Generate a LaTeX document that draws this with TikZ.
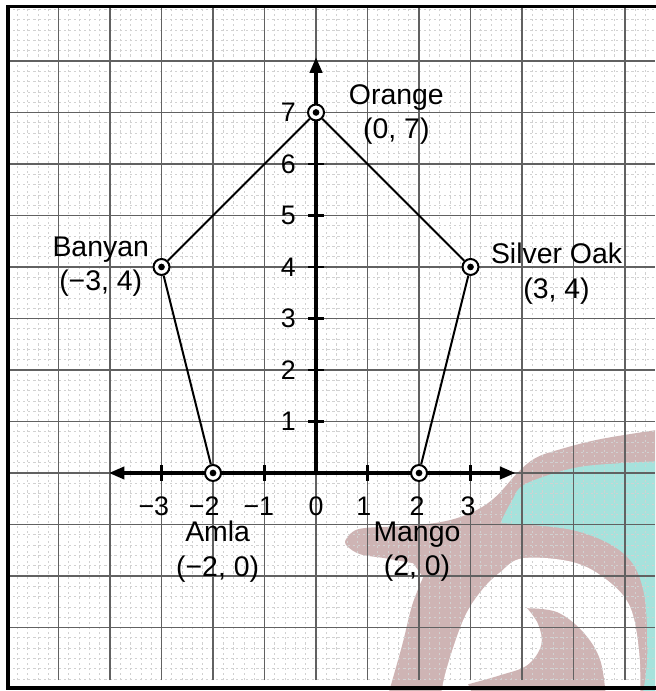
\documentclass[tikz,border=0pt]{standalone}
\usepackage{fontspec}
\setmainfont{Liberation Sans}
\usetikzlibrary{arrows.meta}
\definecolor{wmpink}{RGB}{206,180,180}
\definecolor{wmteal}{RGB}{166,226,220}
\begin{document}
\begin{tikzpicture}[
  >={Triangle[length=0.3cm,width=0.24cm]},
  gmajor/.style={black!62, line width=0.75pt},
  gminor/.style={black!18, line width=0.4pt, dash pattern=on 1.2pt off 1.6pt},
  axisline/.style={line width=1.7pt, black},
  tickline/.style={line width=1.3pt, black},
  ptmark/.style={circle, draw=black, line width=1.1pt, fill=white, minimum size=0.31cm, inner sep=0pt,
    path picture={\fill[black] (path picture bounding box.center) circle (0.065);}},
  sideline/.style={line width=1.1pt, black},
  lbl/.style={font=\fontsize{15.7}{19}\selectfont, align=center, inner sep=0pt},
  numlbl/.style={font=\fontsize{14.8}{18}\selectfont, inner sep=0pt}
]
\useasboundingbox (-6.136,-4.233) rectangle (6.583,9.184);
\fill[white] (-6.136,-4.233) rectangle (6.583,9.184);

% watermark (pixel coordinates)
\begin{scope}
\clip (-6.136,-4.233) rectangle (6.583,9.184);
\begin{scope}[shift={(-6.136,9.184)}, x=0.019417cm, y=-0.019417cm]
\fill[wmpink] plot[smooth, tension=0.6] coordinates {(345,541) (358,529) (400,526) (440,522) (470,513) (494,498) (518,472) (535,458) (557,450) (600,439) (662,429)}
  -- (662,700) -- (388,700)
  -- plot[smooth, tension=0.6] coordinates {(389,691) (402,645) (412,605) (423,577)}
  -- plot[smooth, tension=0.6] coordinates {(413,563) (385,558) (360,554) (347,546) (345,541)} -- cycle;
\fill[wmteal] plot[smooth, tension=0.6] coordinates {(500,523) (512,500) (525,484) (573,468) (620,463) (662,461)}
  -- (662,700) -- (643,700)
  -- plot[smooth, tension=0.6] coordinates {(643,691) (647,653) (643,590) (623,553) (573,530) (500,523)} -- cycle;
\fill[white] plot[smooth, tension=0.6] coordinates {(440,700) (446,670) (463,620) (480,592) (500,572) (523,558) (573,562) (607,580) (630,607) (639,653) (640,700)} -- cycle;
\fill[wmpink] plot[smooth, tension=0.6] coordinates {(527,608) (557,612) (583,632) (600,660) (606,700)}
  -- (475,700)
  -- plot[smooth, tension=0.6] coordinates {(468,684) (500,675) (527,665) (541,645) (538,624) (527,608)} -- cycle;
\end{scope}
\end{scope}

% grid
\draw[gminor] (-5.98,-4.02) grid[step=0.2] (6.583,9.05);
\foreach \x in {-5,...,6} \draw[gmajor] (\x,-4.02) -- (\x,9.05);
\foreach \y in {-3,...,8} \draw[gmajor] (-5.98,\y) -- (6.583,\y);

% frame
\draw[line width=1.7pt] (6.7,9.05) -- (-5.98,9.05) -- (-5.98,-4.175) -- (6.7,-4.175);

% axes
\coordinate (xl) at (-4.02,0);
\coordinate (xr) at (3.87,0);
\coordinate (org) at (0,0);
\coordinate (yt) at (0,8.07);
\draw[axisline, <->] (xl) -- (xr);
\draw[axisline, ->] (org) -- (yt);
\foreach \x in {-3,-2,-1,1,2,3} \draw[tickline] (\x,-0.15) -- (\x,0.15);
\foreach \y in {1,...,7} \draw[tickline] (-0.15,\y) -- (0.15,\y);

% tick labels
\node[numlbl] (tx-3) at (-3.15,-0.64) {−3};
\node[numlbl] (tx-2) at (-2.17,-0.64) {−2};
\node[numlbl] (tx-1) at (-1.11,-0.64) {−1};
\node[numlbl] (tx0) at (0,-0.64) {0};
\node[numlbl] (tx1) at (0.93,-0.64) {1};
\node[numlbl] (tx2) at (1.96,-0.64) {2};
\node[numlbl] (tx3) at (2.95,-0.64) {3};
\foreach \y in {1,...,7} \node[numlbl] (ty\y) at (-0.54,\y) {\y};

% points
\node[ptmark] (orange) at (0,7) {};
\node[ptmark] (silver) at (3,4) {};
\node[ptmark] (mango) at (2,0) {};
\node[ptmark] (amla) at (-2,0) {};
\node[ptmark] (banyan) at (-3,4) {};
\draw[sideline] (orange) -- (silver) -- (mango) -- (amla) -- (banyan) -- (orange);

% labels
\node[lbl] (orangelbl) at (1.56,6.96) {Orange\\(0, 7)};
\node[lbl] (silverlbl) at (4.67,3.87) {Silver Oak\\(3, 4)};
\node[lbl] (banyanlbl) at (-4.18,4.01) {Banyan\\(−3, 4)};
\node[lbl] (amlalbl) at (-1.91,-1.53) {Amla\\(−2, 0)};
\node[lbl] (mangolbl) at (1.96,-1.53) {Mango\\(2, 0)};
\end{tikzpicture}
\end{document}
